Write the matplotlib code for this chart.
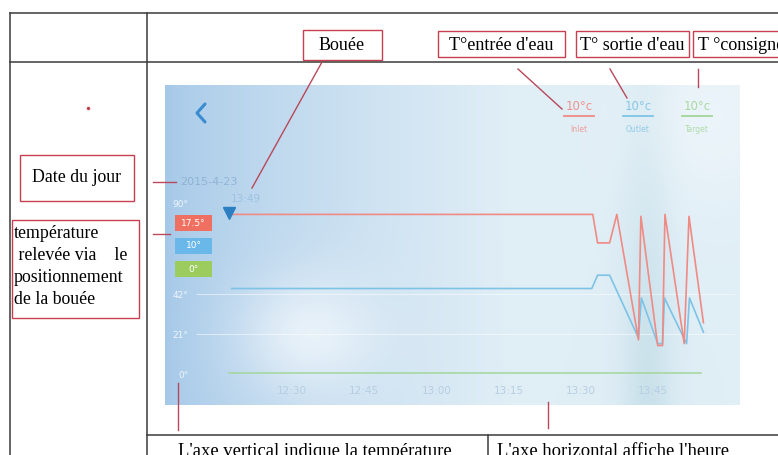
import numpy as np
import matplotlib.pyplot as plt
from matplotlib.patches import Rectangle

W, H = 778, 455

# courbes (minutes apres 12:00, degres)
inlet_t = [17.5, 92.5, 93.5, 96, 97.5, 102, 102.5, 106, 107, 107.5, 111.5, 112.5, 115.5]
inlet_v = [84, 84, 69, 69, 84, 18, 83, 15, 15, 84, 16, 83, 27]
outlet_t = [17.5, 92.3, 93.5, 96, 102, 102.6, 106, 107, 107.4, 112, 112.6, 115.5]
outlet_v = [45, 45, 52, 52, 19, 40, 16, 16, 40, 16, 40, 22]
target_t = [17, 115]
target_v = [0.5, 0.5]

x_ticks = [30, 45, 60, 75, 90, 105]
x_labels = ['12:30', '12:45', '13:00', '13:15', '13:30', '13:45']
y_ticks = [0, 21, 42, 90]
y_labels = ['0°', '21°', '42°', '90°']

badge_labels = ['17.5°', '10°', '0°']
legend_values = ['10°c', '10°c', '10°c']
legend_names = ['Inlet', 'Outlet', 'Target']
date_label = '2015-4-23'
buoy_time = 17
buoy_value = 84.5
buoy_label = '13:49'

red = '#f08a84'
blue = '#7ec3e6'
green = '#a3d69a'


def fbox(x0, y0, x1, y1):
    return [x0 / W, 1 - y1 / H, (x1 - x0) / W, (y1 - y0) / H]


fig = plt.figure(figsize=(W / 100, H / 100), dpi=100)
fig.patch.set_facecolor('white')

# fond de l'appli
ax_bg = fig.add_axes(fbox(165, 85, 740, 405))
nx, ny = 400, 220
u = np.linspace(0, 1, nx)[None, :]
v = np.linspace(0, 1, ny)[:, None]
c_left = np.array([165, 200, 232]) / 255
c_mid = np.array([224, 238, 246]) / 255
c_band = np.array([196, 222, 232]) / 255
t = np.clip(u / 0.6, 0, 1) ** 0.7 + 0 * v
img = c_left * (1 - t)[..., None] + c_mid * t[..., None]
band = np.exp(-((u - 0.84) / 0.045) ** 2) * (0.3 + 0.5 * v) + 0 * v
img = img * (1 - band[..., None]) + c_band * band[..., None]
glow = np.exp(-(((u - 0.25) / 0.12) ** 2 + ((v - 0.78) / 0.18) ** 2))
glow += 0.6 * np.exp(-(((u - 0.95) / 0.15) ** 2 + ((v - 0.1) / 0.3) ** 2))
img = img * (1 - 0.6 * glow[..., None]) + 0.6 * glow[..., None]
img = np.clip(img, 0, 1)
ax_bg.imshow(img, aspect='auto', interpolation='bicubic')
ax_bg.axis('off')

# graphique
ax = fig.add_axes(fbox(165, 85, 740, 382))
ax.patch.set_alpha(0)
ax.set_xlim(3.6, 123.1)
ax.set_ylim(-4.2, 152.1)
for s in ax.spines.values():
    s.set_visible(False)
ax.set_xticks(x_ticks)
ax.set_xticklabels(x_labels)
ax.set_yticks(y_ticks)
ax.set_yticklabels(y_labels)
ax.tick_params(axis='x', length=0, pad=3, labelsize=7.5, labelcolor='#b6cee3')
ax.tick_params(axis='y', length=0, pad=-17, labelsize=6.5, labelcolor='#eef5fb')
ax.hlines(y_ticks[1:3], 10, 122, color='white', lw=0.8, alpha=0.5)

ax.plot(target_t, target_v, color=green, lw=1.1)
ax.plot(outlet_t, outlet_v, color=blue, lw=1.2)
ax.plot(inlet_t, inlet_v, color=red, lw=1.2)
ax.plot(buoy_time, buoy_value, marker='v', ms=8, color='#2c7fc2', mec='#2c7fc2')
ax.annotate(buoy_label, (buoy_time, buoy_value), xytext=(1, 8), textcoords='offset points',
            fontsize=7.5, color='#9cc2e2')

# annotations
ax_o = fig.add_axes([0, 0, 1, 1], zorder=3)
ax_o.patch.set_alpha(0)
ax_o.set_xlim(0, W)
ax_o.set_ylim(H, 0)
ax_o.axis('off')

# elements de l'ecran
ax_o.plot([205, 197, 205], [104, 113, 122], color='#3a8bd0', lw=2.2, solid_capstyle='round')
ax_o.text(180, 182, date_label, fontsize=8, color='#8fb3d6', va='center')
badge_colors = ['#ef6f60', '#6ab8ea', '#9ccc5e']
for i, (lab, col) in enumerate(zip(badge_labels, badge_colors)):
    y0 = 215 + i * 23
    ax_o.add_patch(Rectangle((175, y0), 37, 16, color=col, lw=0))
    ax_o.text(193.5, y0 + 8, lab, fontsize=6.5, color='white', ha='center', va='center')

leg_colors = [red, blue, green]
for i, (val, name, col) in enumerate(zip(legend_values, legend_names, leg_colors)):
    cx = 579 + i * 59
    ax_o.text(cx, 107, val, fontsize=8.5, color=col, ha='center', va='center', alpha=0.9)
    ax_o.plot([cx - 15, cx + 15], [116, 116], color=col, lw=1.3)
    ax_o.text(cx, 129, name, fontsize=5.5, color=col, ha='center', va='center', alpha=0.8)

# tableau
tc = '#3a3a3a'
ax_o.plot([10, W], [13, 13], color=tc, lw=1.1)
ax_o.plot([10, W], [62, 62], color=tc, lw=1.1)
ax_o.plot([147, W], [435, 435], color=tc, lw=1.1)
ax_o.plot([10, 10], [13, H], color=tc, lw=1.1)
ax_o.plot([147, 147], [13, H], color=tc, lw=1.1)
ax_o.plot([488, 488], [435, H], color=tc, lw=1.1)

# cadres rouges
rc = '#c8404f'
boxes = [(303, 30, 382, 60), (438, 31, 565, 57), (576, 31, 689, 57),
         (693, 31, 800, 57), (20, 155, 134, 201), (12, 220, 139, 318)]
for x0, y0, x1, y1 in boxes:
    ax_o.add_patch(Rectangle((x0, y0), x1 - x0, y1 - y0, fill=False, ec=rc, lw=1.0))

serif = 'Liberation Serif'
ax_o.text(342, 46, 'Bouée', family=serif, fontsize=13, ha='center', va='center')
ax_o.text(501, 45, "T°entrée d'eau", family=serif, fontsize=13, ha='center', va='center')
ax_o.text(632, 45, "T° sortie d'eau", family=serif, fontsize=13, ha='center', va='center')
ax_o.text(698, 45, 'T °consigne', family=serif, fontsize=13, ha='left', va='center')
ax_o.text(77, 178, 'Date du jour', family=serif, fontsize=12.8, ha='center', va='center')
para = ['température', ' relevée via    le', 'positionnement', 'de la bouée']
for i, line in enumerate(para):
    ax_o.text(14, 233 + i * 22.3, line, family=serif, fontsize=12.8, va='center')
ax_o.text(178, 456, "L'axe vertical indique la température", family=serif, fontsize=13.4,
          va='baseline')
ax_o.text(497, 456, "L'axe horizontal affiche l'heure", family=serif, fontsize=13.4,
          va='baseline')

# traits de rappel
lc = '#b8485a'
leaders = [((322, 62), (252, 188)), ((518, 69), (562, 109)), ((610, 69), (627, 98)),
           ((698, 69), (698, 87)), ((153, 182), (176, 182)), ((153, 234), (170, 234)),
           ((178, 383), (178, 430)), ((548, 402), (548, 428))]
for (xa, ya), (xb, yb) in leaders:
    ax_o.plot([xa, xb], [ya, yb], color=lc, lw=1.0)
ax_o.plot(88, 108, marker='o', ms=1.5, color=rc)

fig.savefig('out.png', dpi=100)
